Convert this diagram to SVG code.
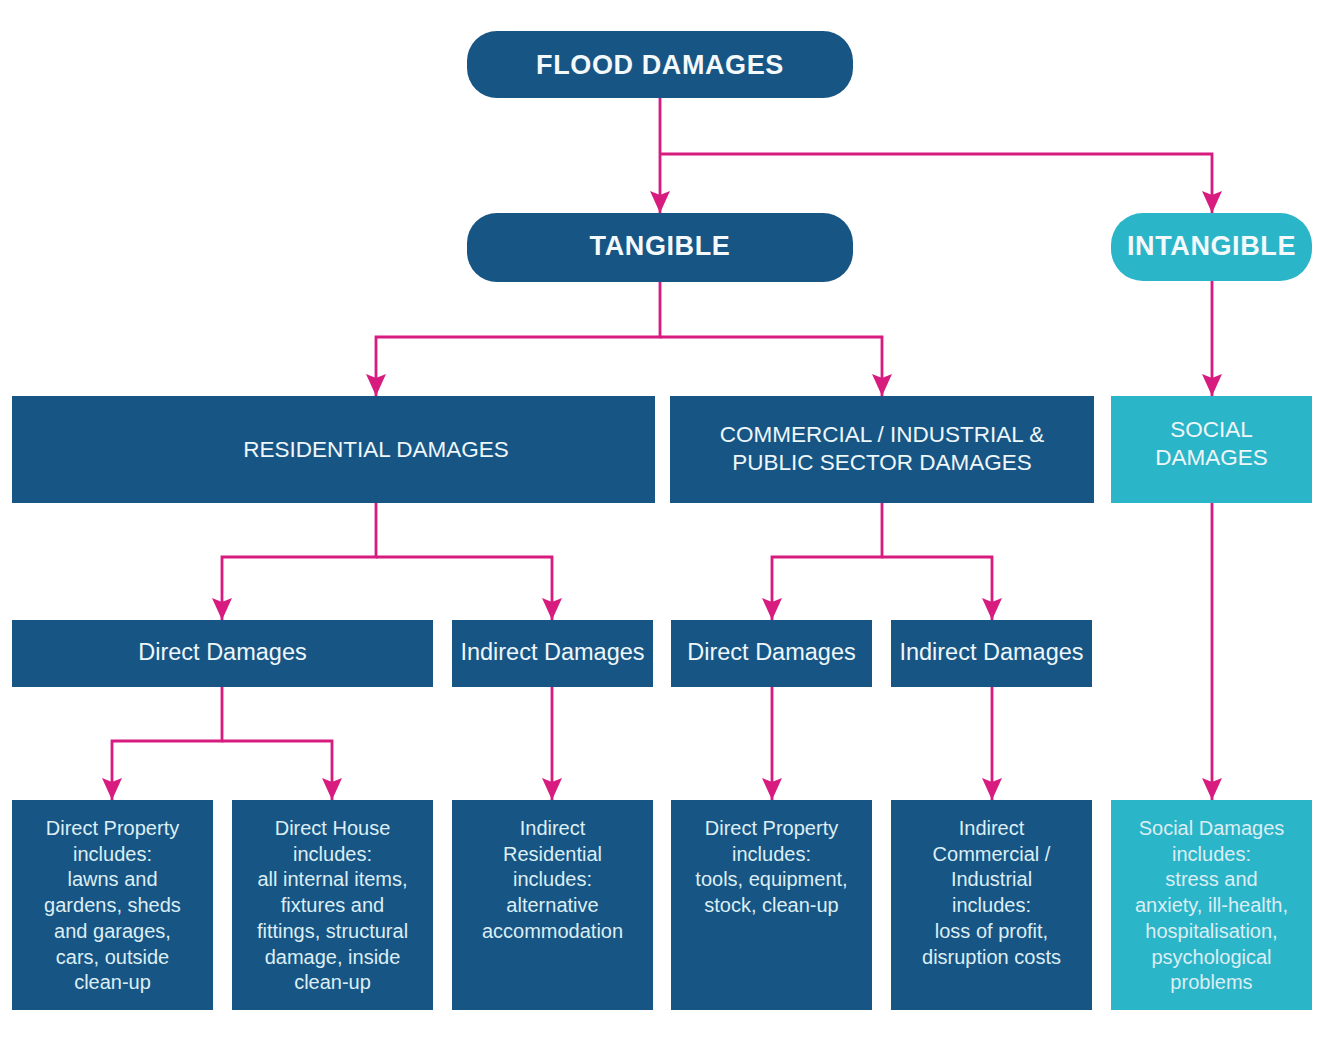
<svg xmlns="http://www.w3.org/2000/svg" width="1328" height="1051" viewBox="0 0 1328 1051">
<style>
.blue{fill:#175585}
.teal{fill:#2BB5C8}
.h{font-family:"Liberation Sans",Arial,sans-serif;font-weight:bold;font-size:27px;letter-spacing:0.6px;fill:#F4F9FB;text-anchor:middle}
.m{font-family:"Liberation Sans",Arial,sans-serif;font-size:22.5px;fill:#EEF7FA;text-anchor:middle}
.s{font-family:"Liberation Sans",Arial,sans-serif;font-size:23.5px;fill:#EEF7FA;text-anchor:middle}
.b{font-family:"Liberation Sans",Arial,sans-serif;font-size:20px;fill:#DCEEF4;text-anchor:middle}
.c{fill:none;stroke:#D81B7F;stroke-width:2.8}
</style>
<defs>
<marker id="ah" viewBox="0 0 22 20" refX="22" refY="10" markerWidth="22" markerHeight="20" markerUnits="userSpaceOnUse" orient="auto">
<path d="M0,0 L22,10 L0,20 L4,10 Z" fill="#D81B7F"/>
</marker>
</defs>
<rect width="1328" height="1051" fill="#FFFFFF"/>
<g id="connectors">
<path class="c" d="M660,98 V213" marker-end="url(#ah)"/>
<path class="c" d="M660,154 H1212 V213" marker-end="url(#ah)"/>
<path class="c" d="M660,282 V337 H376 V396" marker-end="url(#ah)"/>
<path class="c" d="M660,337 H882 V396" marker-end="url(#ah)"/>
<path class="c" d="M1212,281 V396" marker-end="url(#ah)"/>
<path class="c" d="M376,503 V557 H222 V620" marker-end="url(#ah)"/>
<path class="c" d="M376,557 H552 V620" marker-end="url(#ah)"/>
<path class="c" d="M882,503 V557 H772 V620" marker-end="url(#ah)"/>
<path class="c" d="M882,557 H992 V620" marker-end="url(#ah)"/>
<path class="c" d="M1212,503 V800" marker-end="url(#ah)"/>
<path class="c" d="M222,687 V741 H112 V800" marker-end="url(#ah)"/>
<path class="c" d="M222,741 H332 V800" marker-end="url(#ah)"/>
<path class="c" d="M552,687 V800" marker-end="url(#ah)"/>
<path class="c" d="M772,687 V800" marker-end="url(#ah)"/>
<path class="c" d="M992,687 V800" marker-end="url(#ah)"/>
</g>
<g id="flood">
<rect class="blue" x="467" y="31" width="386" height="67" rx="30"/>
<text class="h" x="660" y="74">FLOOD DAMAGES</text>
</g>
<g id="tangible">
<rect class="blue" x="467" y="213" width="386" height="69" rx="30"/>
<text class="h" x="660" y="255">TANGIBLE</text>
</g>
<g id="intangible">
<rect class="teal" x="1111" y="213" width="201" height="68" rx="32"/>
<text class="h" x="1211.5" y="255">INTANGIBLE</text>
</g>
<g id="residential">
<rect class="blue" x="12" y="396" width="643" height="107"/>
<text class="m" x="376" y="457">RESIDENTIAL DAMAGES</text>
</g>
<g id="commercial">
<rect class="blue" x="670" y="396" width="424" height="107"/>
<text class="m" x="882" y="442">COMMERCIAL / INDUSTRIAL &amp;</text>
<text class="m" x="882" y="470">PUBLIC SECTOR DAMAGES</text>
</g>
<g id="social">
<rect class="teal" x="1111" y="396" width="201" height="107"/>
<text class="m" x="1211.5" y="437">SOCIAL</text>
<text class="m" x="1211.5" y="465">DAMAGES</text>
</g>
<g id="res-direct">
<rect class="blue" x="12" y="620" width="421" height="67"/>
<text class="s" x="222.5" y="660">Direct Damages</text>
</g>
<g id="res-indirect">
<rect class="blue" x="452" y="620" width="201" height="67"/>
<text class="s" x="552.5" y="660">Indirect Damages</text>
</g>
<g id="com-direct">
<rect class="blue" x="671" y="620" width="201" height="67"/>
<text class="s" x="771.5" y="660">Direct Damages</text>
</g>
<g id="com-indirect">
<rect class="blue" x="891" y="620" width="201" height="67"/>
<text class="s" x="991.5" y="660">Indirect Damages</text>
</g>
<g id="direct-property">
<rect class="blue" x="12" y="800" width="201" height="210"/>
<text class="b" x="112.5" y="835">Direct Property</text>
<text class="b" x="112.5" y="860.7">includes:</text>
<text class="b" x="112.5" y="886.4">lawns and</text>
<text class="b" x="112.5" y="912.1">gardens, sheds</text>
<text class="b" x="112.5" y="937.8">and garages,</text>
<text class="b" x="112.5" y="963.5">cars, outside</text>
<text class="b" x="112.5" y="989.2">clean-up</text>
</g>
<g id="direct-house">
<rect class="blue" x="232" y="800" width="201" height="210"/>
<text class="b" x="332.5" y="835">Direct House</text>
<text class="b" x="332.5" y="860.7">includes:</text>
<text class="b" x="332.5" y="886.4">all internal items,</text>
<text class="b" x="332.5" y="912.1">fixtures and</text>
<text class="b" x="332.5" y="937.8">fittings, structural</text>
<text class="b" x="332.5" y="963.5">damage, inside</text>
<text class="b" x="332.5" y="989.2">clean-up</text>
</g>
<g id="indirect-residential">
<rect class="blue" x="452" y="800" width="201" height="210"/>
<text class="b" x="552.5" y="835">Indirect</text>
<text class="b" x="552.5" y="860.7">Residential</text>
<text class="b" x="552.5" y="886.4">includes:</text>
<text class="b" x="552.5" y="912.1">alternative</text>
<text class="b" x="552.5" y="937.8">accommodation</text>
</g>
<g id="direct-property-com">
<rect class="blue" x="671" y="800" width="201" height="210"/>
<text class="b" x="771.5" y="835">Direct Property</text>
<text class="b" x="771.5" y="860.7">includes:</text>
<text class="b" x="771.5" y="886.4">tools, equipment,</text>
<text class="b" x="771.5" y="912.1">stock, clean-up</text>
</g>
<g id="indirect-commercial">
<rect class="blue" x="891" y="800" width="201" height="210"/>
<text class="b" x="991.5" y="835">Indirect</text>
<text class="b" x="991.5" y="860.7">Commercial /</text>
<text class="b" x="991.5" y="886.4">Industrial</text>
<text class="b" x="991.5" y="912.1">includes:</text>
<text class="b" x="991.5" y="937.8">loss of profit,</text>
<text class="b" x="991.5" y="963.5">disruption costs</text>
</g>
<g id="social-detail">
<rect class="teal" x="1111" y="800" width="201" height="210"/>
<text class="b" x="1211.5" y="835">Social Damages</text>
<text class="b" x="1211.5" y="860.7">includes:</text>
<text class="b" x="1211.5" y="886.4">stress and</text>
<text class="b" x="1211.5" y="912.1">anxiety, ill-health,</text>
<text class="b" x="1211.5" y="937.8">hospitalisation,</text>
<text class="b" x="1211.5" y="963.5">psychological</text>
<text class="b" x="1211.5" y="989.2">problems</text>
</g>
</svg>
